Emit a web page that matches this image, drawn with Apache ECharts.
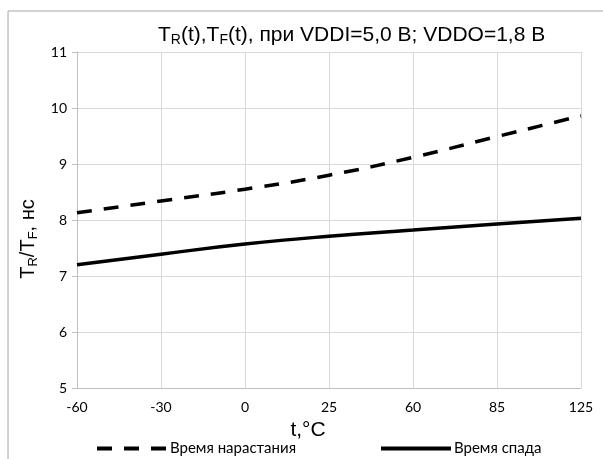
<!DOCTYPE html>
<html><head><meta charset="utf-8">
<script src="https://cdn.jsdelivr.net/npm/echarts@6/dist/echarts.min.js"></script>
<style>html,body{margin:0;padding:0;background:#fff}#c{width:603px;height:459px}</style>
</head><body><div id="c"></div>
<script>
const categories = ['-60', '-30', '0', '25', '60', '85', '125'];
const riseTime = [8.13, 8.34, 8.55, 8.80, 9.12, 9.49, 9.86];
const fallTime = [7.20, 7.39, 7.57, 7.71, 7.82, 7.93, 8.03];
const yTicks = [5, 6, 7, 8, 9, 10, 11];
const seriesNames = ['Время нарастания', 'Время спада'];

const chart = echarts.init(document.getElementById('c'), null, {renderer: 'canvas'});
const lbl = {fontFamily: 'Lato', fontSize: 14, color: '#000'};
const legendCommon = {top: 436, itemWidth: 70, itemHeight: 14, itemGap: 0,
  itemStyle: {opacity: 0},
  lineStyle: {width: 4},
  textStyle: {fontFamily: 'Lato', fontSize: 15, color: '#000', padding: [0, 0, 0, -2]}};
chart.setOption({
  animation: false,
  backgroundColor: '#fff',
  graphic: [{type: 'rect', shape: {x: 8, y: 11, width: 700, height: 600}, style: {fill: 'none', stroke: '#a6a6a6', lineWidth: 1}, silent: true}],
  title: {
    text: 'T{s|R}(t),T{s|F}(t), при VDDI=5,0 В; VDDO=1,8 В',
    left: 153, top: 19,
    textStyle: {fontFamily: 'Liberation Sans', fontSize: 21, fontWeight: 'normal', color: '#000',
      rich: {s: {fontFamily: 'Liberation Sans', fontSize: 14, verticalAlign: 'bottom', padding: [9, 0, 0, 0], color: '#000'}}}
  },
  grid: {left: 77, right: 22, top: 52, bottom: 71, containLabel: false},
  legend: [
    Object.assign({data: [seriesNames[0]], left: 90}, legendCommon),
    Object.assign({data: [seriesNames[1]], left: 374}, legendCommon)
  ],
  xAxis: {
    type: 'category', data: categories, boundaryGap: false,
    name: 't,°C', nameLocation: 'middle', nameGap: 32,
    nameTextStyle: {fontFamily: 'Liberation Sans', fontSize: 21, color: '#000', padding: [0, 42, 0, 0]},
    axisLine: {lineStyle: {color: '#bfbfbf', width: 1}},
    axisTick: {show: false},
    axisLabel: Object.assign({margin: 12}, lbl),
    splitLine: {show: true, lineStyle: {color: '#d9d9d9', width: 1}}
  },
  yAxis: {
    type: 'value', min: yTicks[0], max: yTicks[yTicks.length - 1], interval: 1,
    name: 'T{s|R}/T{s|F}, нс', nameLocation: 'middle', nameGap: 31, nameRotate: 90,
    nameTextStyle: {fontFamily: 'Liberation Sans', fontSize: 20, color: '#000', padding: [0, 38, 0, 0],
      rich: {s: {fontFamily: 'Liberation Sans', fontSize: 13, color: '#000', padding: [9, 0, 0, 0], verticalAlign: 'bottom'}}},
    axisLine: {show: true, lineStyle: {color: '#bfbfbf', width: 1}},
    axisTick: {show: true, length: 5, lineStyle: {color: '#bfbfbf'}},
    axisLabel: Object.assign({margin: 10}, lbl),
    splitLine: {show: true, lineStyle: {color: '#d9d9d9', width: 1}}
  },
  series: [
    {name: seriesNames[0], type: 'line', data: riseTime, smooth: 0.5, symbol: 'none',
      lineStyle: {color: '#000', width: 3.5, type: [15, 12], cap: 'butt'}, itemStyle: {color: '#000'}},
    {name: seriesNames[1], type: 'line', data: fallTime, smooth: 0.5, symbol: 'none',
      lineStyle: {color: '#000', width: 3.5, type: 'solid'}, itemStyle: {color: '#000'}}
  ]
});
</script></body></html>
